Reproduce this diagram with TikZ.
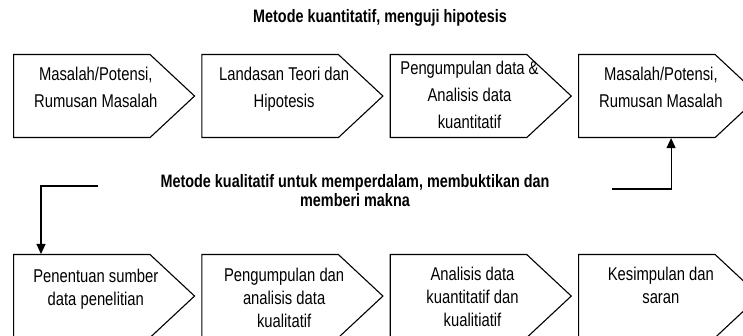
\documentclass[tikz,border=0pt]{standalone}
\usepackage{fontspec}
\setmainfont{Liberation Sans}[FakeStretch=0.8]
\usetikzlibrary{%
    arrows.meta,
    positioning,
    shapes.symbols
}

\tikzset{
    stepbox/.style={draw, line width=1.1pt, signal, signal to=east,
                    signal pointer angle=86, inner sep=0pt,
                    minimum width=181pt, minimum height=83pt},
    steptext/.style={align=center, inner sep=0pt, anchor=north, xshift=14pt,
                     font=\fontsize{18.5}{27}\selectfont},
    lowtext/.style={steptext, font=\fontsize{18.5}{23}\selectfont},
    heading/.style={align=center, font=\bfseries\fontsize{18}{19}\selectfont},
    flowarrow/.style={line width=1.1pt, -{Triangle[length=10pt,width=9pt]}}
}

\begin{document}
\begin{tikzpicture}[x=1pt, y=-1pt, node distance=6pt]
    \clip (0,0) rectangle (743,336);

    \node[heading] (kuantitle) at (380,18) {Metode kuantitatif, menguji hipotesis};

    % kuantitatif
    \node[stepbox, anchor=north west,
          label={[steptext, yshift=-13pt]north:{Masalah/Potensi,\\Rumusan Masalah}}
         ] (kuan-1) at (13,54) {};
    \node[stepbox, right=of kuan-1,
          label={[steptext, yshift=-13pt]north:{Landasan Teori dan\\Hipotesis}}
         ] (kuan-2) {};
    \node[stepbox, right=of kuan-2,
          label={[steptext, xshift=-3pt, yshift=-7pt]north:{Pengumpulan data \&\\Analisis data\\kuantitatif}}
         ] (kuan-3) {};
    \node[stepbox, right=of kuan-3,
          label={[steptext, yshift=-13pt]north:{Masalah/Potensi,\\Rumusan Masalah}}
         ] (kuan-4) {};

    \node[heading] (kualtitle) at (355,191)
        {Metode kualitatif untuk memperdalam, membuktikan dan\\memberi makna};

    % kualitatif
    \node[stepbox, anchor=north west,
          label={[lowtext, yshift=-15pt]north:{Penentuan sumber\\data penelitian}}
         ] (kual-1) at (13,254) {};
    \node[stepbox, right=of kual-1,
          label={[lowtext, yshift=-14pt]north:{Pengumpulan dan\\analisis data\\kualitatif}}
         ] (kual-2) {};
    \node[stepbox, right=of kual-2,
          label={[lowtext, yshift=-13pt]north:{Analisis data\\kuantitatif dan\\kualitiatif}}
         ] (kual-3) {};
    \node[stepbox, right=of kual-3,
          label={[lowtext, yshift=-13pt]north:{Kesimpulan dan\\saran}}
         ] (kual-4) {};

    \coordinate (kual-start) at (98,186);
    \coordinate (kuan-start) at (612,189);
    \draw[flowarrow] (kual-start) -| ([xshift=28pt]kual-1.north west);
    \draw[flowarrow] (kuan-start) -| ([xshift=93pt]kuan-4.south west);
\end{tikzpicture}
\end{document}
